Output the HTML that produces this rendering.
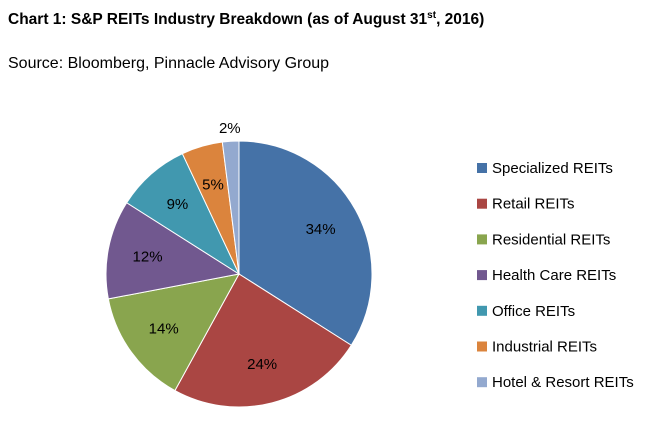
<!DOCTYPE html>
<html><head><meta charset="utf-8"><style>
body{margin:0;background:#fff;width:671px;height:446px;overflow:hidden;font-family:"Liberation Sans",sans-serif;}
#title{position:absolute;left:8px;top:10px;font-size:15.5px;font-weight:bold;color:#000;white-space:nowrap;}
#title sup{font-size:10px;}
#source{position:absolute;left:8px;top:55px;font-size:16px;color:#000;white-space:nowrap;}
</style></head><body>
<div id="title">Chart 1: S&amp;P REITs Industry Breakdown (as of August 31<sup>st</sup>, 2016)</div>
<div id="source">Source: Bloomberg, Pinnacle Advisory Group</div>
<svg id="chart" width="671" height="446" style="position:absolute;left:0;top:0"></svg>
<script>
const categories=["Specialized REITs","Retail REITs","Residential REITs","Health Care REITs","Office REITs","Industrial REITs","Hotel & Resort REITs"];
const values=[34,24,14,12,9,5,2];
const labels=["34%","24%","14%","12%","9%","5%","2%"];
const colors=["#4572A7","#AA4643","#89A54E","#71588F","#4198AF","#DB843D","#93A9CF"];
const NS="http://www.w3.org/2000/svg";
const svg=document.getElementById('chart');
const cx=239,cy=274,r=133;
const total=values.reduce((a,b)=>a+b,0);
function pt(frac,rad){const a=frac*2*Math.PI;return [cx+Math.sin(a)*rad,cy-Math.cos(a)*rad];}
let acc=0;
values.forEach((v,i)=>{
  const f0=acc/total,f1=(acc+v)/total;acc+=v;
  const [x0,y0]=pt(f0,r),[x1,y1]=pt(f1,r);
  const p=document.createElementNS(NS,'path');
  p.setAttribute('d',`M${cx},${cy}L${x0},${y0}A${r},${r} 0 ${(f1-f0)>0.5?1:0} 1 ${x1},${y1}Z`);
  p.setAttribute('fill',colors[i]);p.setAttribute('stroke','#fff');p.setAttribute('stroke-width','1');
  
  
  svg.appendChild(p);
  const fm=(f0+f1)/2;const outside=v/total<0.04;
  const [lx,ly]=pt(fm,outside?r*1.1:r*0.7);
  const t=document.createElementNS(NS,'text');
  t.setAttribute('x',lx);t.setAttribute('y',ly+5);t.setAttribute('text-anchor','middle');
  t.setAttribute('font-size','15');t.setAttribute('fill','#000');
  t.textContent=labels[i];
  
  
  svg.appendChild(t);
});
categories.forEach((c,i)=>{
  const y=168+i*35.7;
  const g=document.createElementNS(NS,'g');
  
  
  const s=document.createElementNS(NS,'rect');
  s.setAttribute('x',477);s.setAttribute('y',y-5);s.setAttribute('width',10);s.setAttribute('height',10);s.setAttribute('fill',colors[i]);
  const t=document.createElementNS(NS,'text');
  t.setAttribute('x',492);t.setAttribute('y',y+5);t.setAttribute('font-size','15');t.setAttribute('fill','#000');
  t.textContent=c;
  g.appendChild(s);g.appendChild(t);svg.appendChild(g);
});
</script>
</body></html>
